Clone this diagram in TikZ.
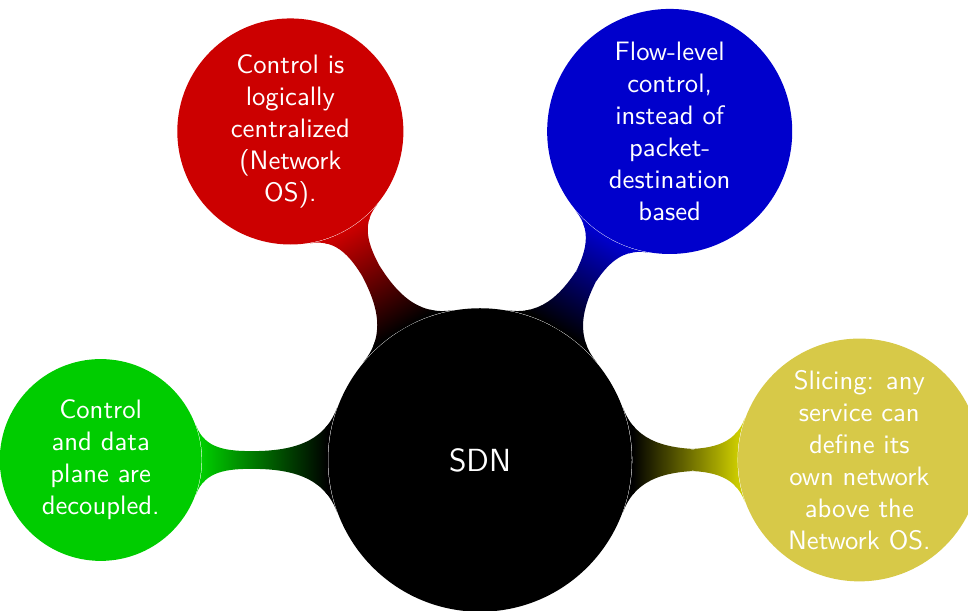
\documentclass[tikz,border=0pt]{standalone}
\usepackage{fontspec}
\usetikzlibrary{mindmap}
\definecolor{sdnblack}{RGB}{0,0,0}
\definecolor{ideagreen}{RGB}{0,204,0}
\definecolor{ideared}{RGB}{204,0,0}
\definecolor{ideablue}{RGB}{0,0,204}
\definecolor{ideayellow}{RGB}{204,204,0}
\definecolor{slicefill}{RGB}{215,201,72}
\begin{document}
\begin{tikzpicture}[
  bubble/.style={circle, inner sep=0pt, align=center, text=white,
    font=\sffamily\normalsize},
  rootbubble/.style={bubble, fill=sdnblack, minimum size=4cm, font=\sffamily\large},
  bar/.style={line width=7.5pt}]
  % page frame
  \useasboundingbox (-6.327,-1.990) rectangle (6.432,6.063);

  \node[rootbubble] (sdn) at (0,0) {SDN};
  \node[bubble, fill=ideagreen, minimum size=2.66cm] (decouple) at (180:5cm)
    {Control\\and data\\plane are\\decoupled.};
  \node[bubble, fill=ideared, minimum size=2.98cm] (central) at (120:5cm)
    {Control is\\logically\\centralized\\(Network\\OS).};
  \node[bubble, fill=ideablue, minimum size=3.23cm] (flow) at (60:5cm)
    {Flow-level\\control,\\instead of\\packet-\\destination\\based};
  \node[bubble, fill=slicefill, minimum size=3.2cm] (slice) at (0:5cm)
    {Slicing: any\\service can\\define its\\own network\\above the\\Network OS.};

  \path[bar] (sdn) to[circle connection bar switch color=from (sdnblack) to (ideagreen)] (decouple);
  \path[bar] (sdn) to[circle connection bar switch color=from (sdnblack) to (ideared)] (central);
  \path[bar] (sdn) to[circle connection bar switch color=from (sdnblack) to (ideablue)] (flow);
  \path[bar] (sdn) to[circle connection bar switch color=from (sdnblack) to (ideayellow)] (slice);
\end{tikzpicture}
\end{document}
